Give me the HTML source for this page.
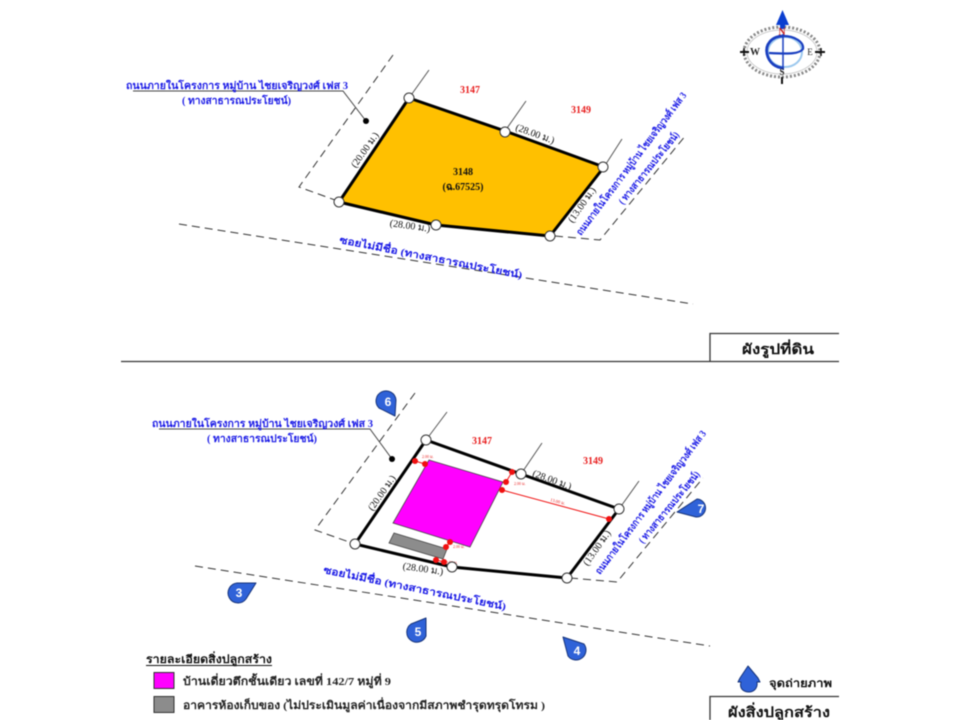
<!DOCTYPE html>
<html lang="th">
<head>
<meta charset="utf-8">
<title>Diagram</title>
<style>
html,body{margin:0;padding:0;background:#fff;width:960px;height:720px;overflow:hidden}
svg{display:block;filter:blur(.4px)}
text{font-family:"Liberation Serif","Noto Serif CJK SC",serif}
.b{fill:#1a1ae6;font-weight:bold;font-size:10px}
.r{fill:#e81c1c;font-weight:bold;font-size:10px}
.d{fill:#111;font-size:10px}
.dash{stroke:#333;stroke-width:1;stroke-dasharray:8 5;fill:none}
.tick{stroke:#555;stroke-width:1;fill:none}
.plot{stroke:#000;stroke-width:3;stroke-linejoin:round}
.node{fill:#fff;stroke:#333;stroke-width:1}
.dot{fill:#f01010}
.rl{stroke:#f01010;stroke-width:1}
.m{fill:#2f62d8;stroke:#16337a;stroke-width:1;stroke-linejoin:round}
.mt{fill:#fff;font-weight:bold;font-size:12px;font-family:"Liberation Sans",sans-serif;text-anchor:middle}
</style>
</head>
<body>
<svg width="960" height="720" viewBox="0 0 960 720" xmlns="http://www.w3.org/2000/svg">
<rect width="960" height="720" fill="#fff"/>

<!-- compass -->
<g>
<ellipse cx="782" cy="52" rx="38" ry="25" fill="none" stroke="#888" stroke-width="3" stroke-dasharray="2 2"/>
<ellipse cx="782" cy="52" rx="35" ry="22" fill="#fff" stroke="#ccc" stroke-width="1"/>
<path d="M740 52H749M815 52H825M782 77V84" stroke="#111" stroke-width="2"/>
<path d="M744 48V56M821 48V56" stroke="#111" stroke-width="1.500"/>
<path d="M782.500 10L789 25H785V29H780V25H776Z" fill="#0b3fd0"/>
<ellipse cx="785" cy="52" rx="17" ry="15" fill="none" stroke="#9cc8ee" stroke-width="2"/>
<path d="M784 36C771 36 765 45 767 54C769 63 776 68 784 68" fill="none" stroke="#1a3fc0" stroke-width="2.800"/>
<path d="M783 36C795 36 804 42 803 49C799 54 790 54 769 53" fill="none" stroke="#1a3fc0" stroke-width="2.200"/>
<path d="M783 34V70" stroke="#1a3fc0" stroke-width="1.500"/>
<text x="782" y="35" font-size="10" font-weight="bold" fill="#c62020" text-anchor="middle">N</text>
<text x="755" y="55" font-size="10" font-weight="bold" fill="#222" text-anchor="middle">W</text>
<text x="810" y="55" font-size="9" fill="#222" text-anchor="middle">E</text>
<text x="782" y="75" font-size="9" font-weight="bold" fill="#222" text-anchor="middle">S</text>
</g>

<!-- top plan -->
<path class="dash" d="M393 55L299 187L335 200"/>
<path class="dash" d="M555 236L600 240L686 135"/>
<path class="dash" d="M179 224L693 304"/>
<path class="tick" d="M409 98L429 70M505 131L526 101M604 167L622 139"/>
<path d="M409 98L505 131L604 167L550 236L436 225L339 202Z" fill="#ffc000" class="plot"/>
<circle class="node" cx="409" cy="98" r="5"/>
<circle class="node" cx="505" cy="132" r="5"/>
<circle class="node" cx="603" cy="167" r="5"/>
<circle class="node" cx="550" cy="236" r="5"/>
<circle class="node" cx="436" cy="225" r="5"/>
<circle class="node" cx="339" cy="202" r="5"/>
<path d="M133 91H343L366 121" fill="none" stroke="#444" stroke-width="1"/>
<circle cx="366" cy="121" r="3" fill="#000"/>
<text class="b" x="126" y="89" textLength="222" lengthAdjust="spacingAndGlyphs">ถนนภายในโครงการ หมู่บ้าน ไชยเจริญวงศ์ เฟส 3</text>
<text class="b" x="182" y="104" textLength="109" lengthAdjust="spacingAndGlyphs">( ทางสาธารณประโยชน์)</text>
<text class="r" x="470" y="93" text-anchor="middle">3147</text>
<text class="r" x="581" y="113" text-anchor="middle">3149</text>
<text x="463" y="175" font-size="10" font-weight="bold" fill="#111" text-anchor="middle">3148</text>
<text x="463" y="190" font-size="10" font-weight="bold" fill="#111" text-anchor="middle">(ฉ.67525)</text>
<text class="d" transform="translate(365 150) rotate(-55)" text-anchor="middle" y="3">(20.00 ม.)</text>
<text class="d" transform="translate(535 134) rotate(20)" text-anchor="middle" y="3">(28.00 ม.)</text>
<text class="d" transform="translate(410 226) rotate(8)" text-anchor="middle" y="3">(28.00 ม.)</text>
<text class="d" transform="translate(582 205) rotate(-55)" text-anchor="middle" y="3">(13.00 ม.)</text>
<text class="b" transform="translate(339 243) rotate(11)" textLength="186" lengthAdjust="spacingAndGlyphs">ซอยไม่มีชื่อ (ทางสาธารณประโยชน์)</text>
<text class="b" transform="translate(581 236) rotate(-53)" textLength="176" lengthAdjust="spacingAndGlyphs">ถนนภายในโครงการ หมู่บ้าน ไชยเจริญวงศ์ เฟส 3</text>
<text class="b" transform="translate(623 205) rotate(-51)" textLength="90" lengthAdjust="spacingAndGlyphs">( ทางสาธารณประโยชน์)</text>

<!-- divider and title -->
<path d="M121 361.500H839M710 361V333.500H839" fill="none" stroke="#333" stroke-width="1.300"/>
<text x="778" y="354" font-size="14" font-weight="bold" fill="#111" text-anchor="middle" textLength="72" lengthAdjust="spacingAndGlyphs">ผังรูปที่ดิน</text>

<!-- bottom plan -->
<path class="dash" d="M415 393L315 530L352 543"/>
<path class="dash" d="M570 578L617 582L703 478"/>
<path class="dash" d="M195 566L710 646"/>
<path class="tick" d="M426 440L447 412M521 474L542 443M619 509L639 481"/>
<path d="M426 440L521 474L619 509L567 578L452 567L355 544Z" fill="#fff" class="plot"/>
<polygon points="429,460 503,482 470,547 393,523" fill="#ff00ff" stroke="#444" stroke-width="0.800"/>
<polygon points="394,533 447,549 443,559 389,543" fill="#8c8c8c" stroke="#444" stroke-width="0.800"/>
<path class="rl" d="M415 461L425 464M512 472L506 482M502 490L609 519M450 542L446 547M436 560L444 562"/>
<g class="dot">
<circle cx="415" cy="461" r="3"/><circle cx="425" cy="464" r="3"/>
<circle cx="512" cy="472" r="3"/><circle cx="506" cy="482" r="3"/>
<circle cx="502" cy="490" r="3"/><circle cx="609" cy="519" r="3"/>
<circle cx="450" cy="542" r="3"/><circle cx="446" cy="547" r="3"/>
<circle cx="436" cy="560" r="3"/><circle cx="444" cy="562" r="3"/>
</g>
<g font-size="4" fill="#e81c1c">
<text x="422" y="458">2.00 ม.</text>
<text x="514" y="485">2.00 ม.</text>
<text transform="translate(550 501) rotate(15)" font-size="4.500">13.00 ม.</text>
<text x="453" y="548">2.00 ม.</text>
<text x="446" y="564">0.50 ม.</text>
</g>
<circle class="node" cx="426" cy="440" r="5"/>
<circle class="node" cx="521" cy="474" r="5"/>
<circle class="node" cx="619" cy="509" r="5"/>
<circle class="node" cx="567" cy="578" r="5"/>
<circle class="node" cx="452" cy="567" r="5"/>
<circle class="node" cx="355" cy="544" r="5"/>
<path d="M159 429H370L392 459" fill="none" stroke="#444" stroke-width="1"/>
<circle cx="392" cy="459" r="3" fill="#000"/>
<text class="b" x="152" y="427" textLength="221" lengthAdjust="spacingAndGlyphs">ถนนภายในโครงการ หมู่บ้าน ไชยเจริญวงศ์ เฟส 3</text>
<text class="b" x="207" y="442" textLength="110" lengthAdjust="spacingAndGlyphs">( ทางสาธารณประโยชน์)</text>
<text class="r" x="482" y="444" text-anchor="middle">3147</text>
<text class="r" x="593" y="464" text-anchor="middle">3149</text>
<text class="d" transform="translate(382 493) rotate(-55)" text-anchor="middle" y="3">(20.00 ม.)</text>
<text class="d" transform="translate(552 480) rotate(20)" text-anchor="middle" y="3">(28.00 ม.)</text>
<text class="d" transform="translate(423 569) rotate(8)" text-anchor="middle" y="3">(28.00 ม.)</text>
<text class="d" transform="translate(597 548) rotate(-55)" text-anchor="middle" y="3">(13.00 ม.)</text>
<text class="b" transform="translate(323 573) rotate(11.500)" textLength="186" lengthAdjust="spacingAndGlyphs">ซอยไม่มีชื่อ (ทางสาธารณประโยชน์)</text>
<text class="b" transform="translate(600 575) rotate(-53)" textLength="177" lengthAdjust="spacingAndGlyphs">ถนนภายในโครงการ หมู่บ้าน ไชยเจริญวงศ์ เฟส 3</text>
<text class="b" transform="translate(643 544) rotate(-50.500)" textLength="90" lengthAdjust="spacingAndGlyphs">( ทางสาธารณประโยชน์)</text>

<!-- markers -->
<path class="m" d="M395 416L379 408A10 10 0 1 1 396 400Z"/>
<text class="mt" x="388" y="406">6</text>
<path class="m" d="M256 583L246 599A10 10 0 1 1 237 583Z"/>
<text class="mt" x="239" y="597">3</text>
<path class="m" d="M426 618L426 636A10 10 0 1 1 411 624Z"/>
<text class="mt" x="418" y="636">5</text>
<path class="m" d="M563 637L584 644A10 10 0 1 1 568 656Z"/>
<text class="mt" x="577" y="655">4</text>
<path class="m" d="M677 512L697 499A9 9 0 1 1 696 517Z"/>
<text class="mt" x="701" y="513">7</text>

<!-- legend -->
<text x="146" y="663" font-size="11" font-weight="bold" fill="#111" textLength="126" lengthAdjust="spacingAndGlyphs">รายละเอียดสิ่งปลูกสร้าง</text>
<path d="M146 665.500H272" stroke="#111" stroke-width="1"/>
<rect x="154" y="672.500" width="20" height="16" fill="#ff00ff" stroke="#333" stroke-width="1"/>
<text x="183" y="685" font-size="11" font-weight="bold" fill="#222" textLength="208" lengthAdjust="spacingAndGlyphs">บ้านเดี่ยวตึกชั้นเดียว เลขที่ 142/7 หมู่ที่ 9</text>
<rect x="154" y="696.500" width="20" height="16" fill="#8c8c8c" stroke="#333" stroke-width="1"/>
<text x="183" y="709" font-size="11" font-weight="bold" fill="#222" textLength="362" lengthAdjust="spacingAndGlyphs">อาคารห้องเก็บของ (ไม่ประเมินมูลค่าเนื่องจากมีสภาพชำรุดทรุดโทรม )</text>

<!-- photo point key and title -->
<path d="M748 666L758 678L760 682L757 682C758 689 753 692 749 692C744 692 739 689 741 682L738 682L740 678Z" fill="#2f62d8" stroke="#16337a" stroke-width="1" stroke-linejoin="round"/>
<text x="769" y="687" font-size="11" font-weight="bold" fill="#111" textLength="63" lengthAdjust="spacingAndGlyphs">จุดถ่ายภาพ</text>
<path d="M710 720V696.500H839" fill="none" stroke="#333" stroke-width="1.300"/>
<text x="728" y="717" font-size="14" font-weight="bold" fill="#111" textLength="102" lengthAdjust="spacingAndGlyphs">ผังสิ่งปลูกสร้าง</text>
</svg>
</body>
</html>
